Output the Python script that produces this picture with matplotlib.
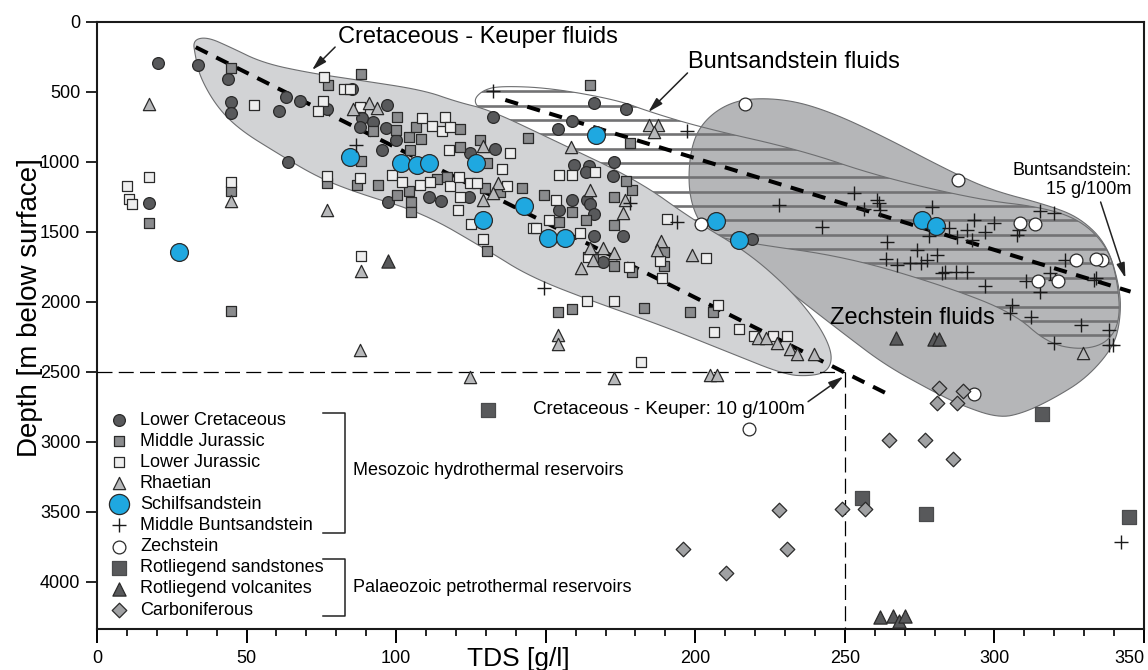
import numpy as np
import matplotlib
matplotlib.use('agg')
import matplotlib.pyplot as plt
from matplotlib.patches import Polygon
from matplotlib.collections import LineCollection

plt.rcParams['font.family'] = ['Liberation Sans', 'DejaVu Sans']

# TDS [g/l] and depth [m below surface] per formation
lower_cret_tds = [20.3, 33.7, 43.9, 44.9, 44.9, 63.2, 67.9, 60.8, 63.8, 17.4, 77.0,
                  85.2, 96.9, 88.5, 92.1, 88.0, 96.7, 95.3, 100.0, 97.2, 111.0, 115.0, 124.4, 124.7, 133.1, 132.3,
                  159.5, 164.6, 163.5, 172.7, 172.5, 154.3, 158.8, 163.8, 164.9, 166.2, 166.3, 175.7, 169.3,
                  166.2, 176.9, 158.7, 154.1, 219.0]
lower_cret_depth = [295, 307, 409, 571, 648, 538, 562, 636, 1000, 1291, 624,
                    481, 595, 684, 714, 748, 757, 914, 843, 1284, 1252, 1281, 1252, 934, 909, 681,
                    1021, 1029, 1069, 998, 1100, 1343, 1271, 1271, 1302, 1371, 1526, 1529, 1712,
                    576, 624, 705, 762, 1548]

mid_jur_tds = [44.9, 77.2, 44.9, 77.0, 17.4, 44.9,
               88.3, 88.3, 86.9, 93.9, 92.1, 100.2, 99.8, 104.4, 108.3, 104.7, 106.6, 121.4, 121.4, 128.1,
               130.5, 113.6, 104.2, 105.1, 104.9, 100.2, 129.8, 142.0, 149.3, 130.3, 144.2, 117.0,
               134.6, 158.8, 163.5, 154.3, 172.7, 178.8, 176.9, 172.7, 165.8, 172.7, 178.8, 189.4, 189.7,
               154.1, 158.8, 182.7, 198.3, 205.9, 178.3, 164.9]
mid_jur_depth = [329, 450, 1205, 1148, 1434, 2062,
                 371, 991, 1164, 1164, 781, 676, 771, 824, 834, 914, 748, 766, 895, 843,
                 1009, 1119, 1209, 1284, 1355, 1236, 1188, 1188, 1236, 1634, 831, 1109,
                 1212, 1355, 1414, 1426, 1450, 1200, 1134, 1252, 1676, 1743, 1784, 1641, 1741,
                 2069, 2050, 2041, 2069, 2069, 866, 450]

low_jur_tds = [76.0, 52.6, 75.7, 73.9, 82.6, 17.4, 10.1, 10.8, 11.8, 44.9, 77.0,
               84.6, 88.0, 88.0, 98.6, 101.9, 108.6, 111.9, 115.3, 116.4, 118.1, 108.0, 111.4, 118.1, 121.1,
               124.7, 121.2, 120.8, 135.4, 138.1, 125.1, 129.2, 145.9, 88.3, 117.8, 137.0,
               154.3, 158.8, 166.6, 153.5, 151.2, 146.8, 161.3, 164.3, 177.7, 190.7, 188.3, 203.7, 188.9,
               163.8, 172.7, 207.5, 206.1, 127.0, 181.9, 214.5, 219.7, 226.0, 230.6]
low_jur_depth = [395, 593, 564, 634, 479, 1109, 1169, 1266, 1300, 1145, 1100,
                 481, 605, 1116, 1093, 1141, 688, 743, 776, 676, 748, 1164, 1141, 1171, 1105,
                 1152, 1252, 1343, 1048, 938, 1445, 1552, 1474, 1671, 914, 1171,
                 1093, 1093, 1074, 1271, 1414, 1474, 1505, 1676, 1748, 1409, 1705, 1684, 1831,
                 1991, 1991, 2021, 2216, 1152, 2431, 2195, 2243, 2243, 2243]

rhaetian_tds = [17.4, 44.9, 77.0, 91.0, 93.5, 85.7, 129.2, 134.2, 132.3, 128.9, 88.3,
                158.5, 164.9, 176.6, 175.8, 164.9, 169.3, 172.7, 165.8, 161.9, 188.6, 187.2, 198.9,
                154.1, 154.1, 184.4, 187.7, 186.1, 220.8, 223.7, 227.3, 231.8, 234.0, 239.8,
                205.0, 207.3, 329.6, 172.9, 124.7, 88.0]
rhaetian_depth = [586, 1276, 1343, 576, 616, 624, 886, 1148, 1224, 1271, 1776,
                  891, 1200, 1271, 1366, 1616, 1616, 1652, 1700, 1759, 1564, 1629, 1664,
                  2236, 2300, 736, 736, 784, 2260, 2260, 2291, 2338, 2371, 2371,
                  2521, 2521, 2362, 2545, 2536, 2343]

schilf_tds = [27.5, 84.6, 101.6, 106.9, 111.0, 126.7, 142.6, 128.9, 150.7, 156.5, 166.8, 207.0, 214.6, 275.8, 280.6]
schilf_depth = [1641, 964, 1005, 1024, 1009, 1005, 1314, 1414, 1545, 1541, 807, 1421, 1557, 1414, 1455]

bunt_tds = [252.9, 256.3, 261.3, 261.6, 279.2, 264.1, 274.1, 263.9, 267.5, 271.7, 275.3, 277.5, 280.8,
            278.0, 284.7, 287.5, 290.9, 292.5, 293.1, 297.0, 299.8, 283.6, 287.0, 290.9, 282.5, 297.0,
            308.1, 307.4, 315.2, 319.8, 323.7, 310.4, 315.4, 320.4, 318.7, 305.9, 305.1, 312.3, 329.0,
            338.2, 338.2, 319.8, 333.8, 242.3, 227.9, 260.7, 333.2,
            132.3, 197.2, 178.3, 193.9, 149.5, 86.6, 342.3, 339.5]
bunt_depth = [1219, 1338, 1291, 1343, 1319, 1569, 1629, 1695, 1736, 1724, 1724, 1700, 1664,
              1529, 1474, 1538, 1486, 1557, 1414, 1498, 1438, 1784, 1784, 1784, 1795, 1886,
              1486, 1521, 1348, 1362, 1700, 1848, 1926, 1843, 1795, 2021, 2081, 2105, 2164,
              2200, 2307, 2291, 1831, 1462, 1307, 1271, 1843,
              491, 776, 1295, 1426, 1900, 881, 3716, 2307]

zech_tds = [287.7, 308.4, 313.5, 327.2, 335.8, 334.1, 314.5, 321.2, 216.7, 201.9, 293.3, 218.1]
zech_depth = [1129, 1438, 1443, 1700, 1700, 1695, 1848, 1848, 588, 1445, 2659, 2907]

rotl_sand_tds = [130.8, 255.7, 277.0, 345.1, 316.0]
rotl_sand_depth = [2771, 3398, 3516, 3538, 2800]

rotl_volc_tds = [97.4, 267.2, 279.7, 281.4, 261.6, 266.2, 268.2, 270.1]
rotl_volc_depth = [1707, 2260, 2267, 2267, 4250, 4243, 4279, 4243]

carb_tds = [281.5, 289.5, 280.9, 287.5, 264.8, 276.8, 286.0, 227.9, 248.9, 256.6, 196.0, 230.8, 210.4]
carb_depth = [2616, 2634, 2724, 2724, 2986, 2986, 3121, 3486, 3479, 3479, 3764, 3764, 3934]

# fluid envelopes (outline vertices, TDS / depth)
cret_env_tds = [32.1, 36.8, 44.5, 55.5, 71.2, 87.0, 109.0, 120.4, 131.4, 152.5, 180.6, 199.3, 217.4,
                231.8, 240.1, 244.5, 245.8, 243.8, 238.5, 230.1,
                211.7, 188.3, 167.2, 144.8, 130.4, 109.0, 87.0, 73.6, 60.2, 47.8, 40.1, 34.4, 32.8]
cret_env_depth = [129, 107, 179, 293, 364, 414, 486, 571, 629, 843, 1129, 1414, 1643,
                  1914, 2129, 2293, 2414, 2500, 2529, 2521,
                  2364, 2164, 2007, 1821, 1629, 1364, 1221, 1107, 936, 771, 607, 393, 236]

bunt_env_tds = [125.8, 129.1, 134.8, 151.5, 173.9, 184.9, 202.7, 235.1, 261.9, 295.3, 315.4, 328.8,
                337.8, 341.1, 342.1, 337.8, 328.8, 317.7, 306.4, 284.3, 250.8, 217.4, 201.7, 181.6,
                154.8, 128.1]
bunt_env_depth = [557, 486, 457, 471, 557, 643, 757, 914, 1107, 1271, 1321, 1414,
                  1607, 1843, 2129, 2293, 2343, 2293, 2079, 1893, 1679, 1579, 1507, 1271,
                  914, 629]

zech_env_tds = [218.4, 231.8, 245.2, 261.9, 284.3, 298.7, 317.7, 328.8, 337.8, 342.1, 342.1, 339.8,
                330.8, 320.1, 309.7, 301.3, 288.6, 278.6, 263.5, 250.2, 235.1, 221.7, 208.4, 201.7,
                198.3, 197.7, 199.3, 203.3, 210.0]
zech_env_depth = [543, 557, 643, 807, 1057, 1200, 1307, 1400, 1593, 1914, 2129, 2321,
                  2543, 2686, 2793, 2829, 2736, 2629, 2450, 2236, 1986, 1757, 1557, 1450,
                  1271, 1057, 843, 700, 593]

# depth gradients
ck_trend_tds = [33, 265]
ck_trend_depth = [180, 2665]
bs_trend_tds = [136.5, 345.5]
bs_trend_depth = [557, 1926]

x_ticks = [0, 50, 100, 150, 200, 250, 300, 350]
x_tick_labels = ['0', '50', '100', '', '200', '250', '300', '350']


def smooth_outline(x, y, n=3):
    # Chaikin corner cutting for a closed outline
    pts = np.column_stack([x, y]).astype(float)
    for _ in range(n):
        nxt = np.roll(pts, -1, axis=0)
        out = np.empty((2 * len(pts), 2))
        out[0::2] = 0.75 * pts + 0.25 * nxt
        out[1::2] = 0.25 * pts + 0.75 * nxt
        pts = out
    return pts


fig = plt.figure(figsize=(11.48, 6.70), dpi=100)
ax = fig.add_axes([97 / 1148, 41 / 670, 1047 / 1148, 607 / 670])
ax.set_xlim(0, 350)
ax.set_ylim(4336, 0)

edge = '#6d6e70'
bunt_fill = Polygon(smooth_outline(bunt_env_tds, bunt_env_depth), closed=True,
                    facecolor='white', edgecolor='none', zorder=1)
ax.add_patch(bunt_fill)
zech_poly = Polygon(smooth_outline(zech_env_tds, zech_env_depth), closed=True,
                    facecolor='#b5b6b8', edgecolor=edge, lw=0.8, zorder=1.5)
ax.add_patch(zech_poly)

# horizontal stripes of the Buntsandstein envelope
stripe_depths = np.arange(495, 2420, 102.5)
segs = [[(100, d), (350, d)] for d in stripe_depths]
stripes = LineCollection(segs, colors='#727274', linewidths=1.9, zorder=2)
ax.add_collection(stripes)
stripes.set_clip_path(bunt_fill)
bunt_edge = Polygon(smooth_outline(bunt_env_tds, bunt_env_depth), closed=True,
                    facecolor='none', edgecolor=edge, lw=0.8, zorder=2.2)
ax.add_patch(bunt_edge)

cret_poly = Polygon(smooth_outline(cret_env_tds, cret_env_depth), closed=True,
                    facecolor='#d2d3d5', edgecolor=edge, lw=0.8, zorder=3)
ax.add_patch(cret_poly)

# gradient lines and 2500 m / 250 g/l guides
ax.plot(ck_trend_tds, ck_trend_depth, color='black', lw=2.9, ls=(0, (3.3, 2.4)), zorder=4)
ax.plot(bs_trend_tds, bs_trend_depth, color='black', lw=2.9, ls=(0, (3.3, 2.4)), zorder=4)
ax.plot([0, 250], [2500, 2500], color='black', lw=0.9, ls=(0, (12, 5)), zorder=4)
ax.plot([250, 250], [2500, 4336], color='black', lw=0.9, ls=(0, (12, 5)), zorder=4)

dark = '#2a2a2a'
series = [
    ('Lower Cretaceous', lower_cret_tds, lower_cret_depth,
     dict(marker='o', s=72, c='#58595b', edgecolors=dark, linewidths=0.9)),
    ('Middle Jurassic', mid_jur_tds, mid_jur_depth,
     dict(marker='s', s=62, c='#8a8b8d', edgecolors=dark, linewidths=0.9)),
    ('Lower Jurassic', low_jur_tds, low_jur_depth,
     dict(marker='s', s=62, c='#eeeeee', edgecolors=dark, linewidths=0.9)),
    ('Rhaetian', rhaetian_tds, rhaetian_depth,
     dict(marker='^', s=78, c='#b7b8ba', edgecolors=dark, linewidths=0.9)),
    ('Schilfsandstein', schilf_tds, schilf_depth,
     dict(marker='o', s=165, c='#1fa8e0', edgecolors=dark, linewidths=0.9)),
    ('Middle Buntsandstein', bunt_tds, bunt_depth,
     dict(marker='+', s=95, c='#1a1a1a', linewidths=1.0)),
    ('Zechstein', zech_tds, zech_depth,
     dict(marker='o', s=85, c='white', edgecolors=dark, linewidths=0.9)),
    ('Rotliegend sandstones', rotl_sand_tds, rotl_sand_depth,
     dict(marker='s', s=115, c='#58595b', edgecolors='#4a4b4d', linewidths=0.9)),
    ('Rotliegend volcanites', rotl_volc_tds, rotl_volc_depth,
     dict(marker='^', s=90, c='#58595b', edgecolors=dark, linewidths=0.9)),
    ('Carboniferous', carb_tds, carb_depth,
     dict(marker='D', s=55, c='#a0a1a3', edgecolors=dark, linewidths=0.9)),
]
for name, xs, ys, kw in series:
    ax.scatter(xs, ys, zorder=5, clip_on=False, **kw)

# hand-built legend with brackets
row_y = [0.3443, 0.3097, 0.2751, 0.2405, 0.2059, 0.1713, 0.1351, 0.1005, 0.0659, 0.0313]
for (name, xs, ys, kw), yy in zip(series, row_y):
    lkw = dict(kw)
    if lkw['marker'] == 'o' and lkw['s'] > 100:
        lkw['s'] = 210
    ax.scatter([0.021], [yy], transform=ax.transAxes, zorder=6, clip_on=False, **lkw)
    ax.text(0.041, yy, name, transform=ax.transAxes, fontsize=13, va='center', ha='left', zorder=6)

for top, bot in [(0.3558, 0.1582), (0.1153, 0.0214)]:
    ax.plot([0.216, 0.237, 0.237, 0.216], [top, top, bot, bot], color='#222222', lw=1.1,
            transform=ax.transAxes, zorder=6)
ax.text(0.2445, 0.2603, 'Mesozoic hydrothermal reservoirs', transform=ax.transAxes,
        fontsize=13, va='center', ha='left')
ax.text(0.2445, 0.068, 'Palaeozoic petrothermal reservoirs', transform=ax.transAxes,
        fontsize=13, va='center', ha='left')

# labels and arrows
ax.text(127.4, 107, 'Cretaceous - Keuper fluids', fontsize=17, ha='center', va='center', zorder=7)
ax.text(233.1, 286, 'Buntsandstein fluids', fontsize=17, ha='center', va='center', zorder=7)
ax.text(272.6, 2114, 'Zechstein fluids', fontsize=17, ha='center', va='center', zorder=7)
ax.text(345.8, 1129, 'Buntsandstein:\n15 g/100m', fontsize=13, ha='right', va='center',
        multialignment='right', linespacing=1.2, zorder=7)
ax.text(191.3, 2771, 'Cretaceous - Keuper: 10 g/100m', fontsize=13.5, ha='center', va='center', zorder=7)

arrow = dict(arrowstyle='-|>,head_length=0.9,head_width=0.25', color='#222222', lw=1.1,
             shrinkA=0, shrinkB=0)
ax.annotate('', xy=(71.9, 343), xytext=(79.6, 179), arrowprops=arrow, zorder=7)
ax.annotate('', xy=(184.3, 643), xytext=(197.4, 364), arrowprops=arrow, zorder=7)
ax.annotate('', xy=(343.8, 1829), xytext=(335.5, 1286), arrowprops=arrow, zorder=7)
ax.annotate('', xy=(249.5, 2533), xytext=(237.7, 2712), arrowprops=arrow, zorder=7)

# axes styling
ax.set_xticks(x_ticks)
ax.set_xticklabels(x_tick_labels)
ax.get_xticklabels()[-1].set_horizontalalignment('right')
ax.set_xticks(np.arange(0, 351, 10), minor=True)
ax.set_yticks(np.arange(0, 4001, 500))
ax.tick_params(axis='x', which='major', direction='out', length=10, width=1.4, labelsize=13, pad=5)
ax.tick_params(axis='x', which='minor', direction='out', length=5, width=1.2)
ax.tick_params(axis='y', which='major', direction='out', length=8, width=1.2, labelsize=13, pad=4)
for sp in ax.spines.values():
    sp.set_linewidth(1.5)
    sp.set_color('#1a1a1a')

ax.set_xlabel('TDS [g/l]', fontsize=19)
ax.xaxis.set_label_coords(0.402, -0.03)
ax.set_ylabel('Depth [m below surface]', fontsize=20)
ax.yaxis.set_label_coords(-0.052, 0.53)

fig.savefig('out.png', dpi=100)
